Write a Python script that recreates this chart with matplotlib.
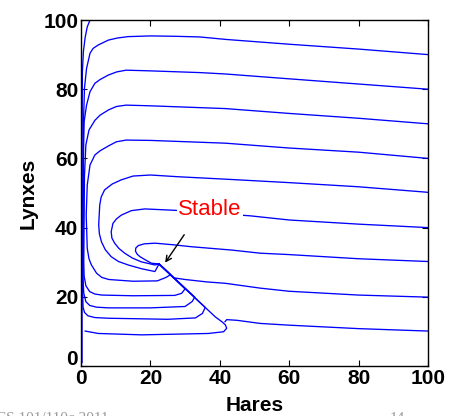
import matplotlib
matplotlib.use("Agg")
from matplotlib import pyplot as plt
import matplotlib.transforms as mtransforms

# trajectories (hares, lynxes)
top_x = [0.3, 0.3, 0.4, 0.7, 1.2, 1.8, 2.6]
top_y = [1, 60, 85, 91, 95, 98, 100]

a_x = [100, 80, 60, 41.6, 34.3, 27, 20, 13.6, 10.5, 7.9, 5, 3.5, 2.6, 1.6, 1.0, 0.7, 0.5, 0.5, 0.6, 1.0, 2, 4, 8, 25, 33, 35, 35.8, 22.5]
a_y = [90, 91.6, 93, 94.4, 95.1, 95.3, 95.4, 95.2, 94.8, 94.2, 92.8, 91.8, 90.4, 86, 80.3, 70, 50, 20, 17, 15.5, 14.5, 14.0, 13.8, 13.5, 13.9, 15.2, 16.9, 29.5]

b_x = [100, 80, 60, 41.6, 34.3, 20, 13, 10.3, 7.9, 5.5, 4, 2.6, 1.6, 0.9, 0.7, 0.6, 0.8, 1.4, 2.5, 4.5, 8, 20, 30, 32, 32.8, 22.5]
b_y = [80, 81.5, 83, 84.4, 84.8, 85.3, 85.5, 85.0, 84.1, 82.8, 81.7, 79.3, 75.4, 70.6, 60, 25, 21, 18.6, 17.5, 17.0, 16.8, 16.8, 17.2, 18.6, 19.9, 29.5]

c_x = [100, 80, 60, 41.6, 20, 13, 10.2, 7.9, 5.5, 4, 2.3, 1.4, 1.0, 0.8, 0.9, 1.4, 2.5, 4, 6, 15, 27, 29, 30, 22.5]
c_y = [70, 71.6, 73, 74.4, 75.2, 75.4, 75.0, 74, 72.5, 71, 68.2, 63.9, 55, 30, 26, 23.2, 21.5, 20.8, 20.5, 20.3, 20.4, 21.0, 22.3, 29.5]

d_x = [100, 80, 60, 41.6, 20, 13, 10.2, 7.9, 5.5, 4, 2.6, 1.8, 1.5, 1.8, 2.3, 3, 4.5, 6, 8, 15, 22, 24.5, 25.8, 22.5]
d_y = [60, 61.8, 63, 64.4, 65.2, 65.3, 64.8, 63.6, 62.2, 61, 58.1, 52.3, 43.6, 34, 31, 29.2, 26.8, 25.6, 25, 24.5, 24.6, 25.6, 26.4, 29.5]

e_x = [100, 80, 60, 41.6, 28, 20, 15, 11.6, 9, 6.8, 5.8, 5.4, 5.1, 5.3, 5.9, 7, 8.7, 10.8, 13.6, 17.5, 21.3, 22.5]
e_y = [50.2, 51.8, 53, 54, 54.7, 55.2, 54.9, 53.8, 52.6, 50.9, 48.8, 46.5, 40.8, 38.2, 35.9, 33.6, 31.6, 30.2, 29.2, 28.1, 27.3, 29.5]

f_x = [100, 80, 60, 48.8, 27, 18.4, 14.5, 11.6, 10.2, 9.2, 8.7, 8.9, 9.7, 10.9, 12.6, 14.8, 17.4, 21.3, 22.5]
f_y = [40, 41, 42.2, 43.4, 45, 45.4, 44.9, 43.6, 42.5, 41.2, 38.8, 37.0, 35.5, 34.0, 32.6, 31.2, 30.1, 29.2, 29.5]

g_x = [100, 80, 60, 51.7, 43.5, 31.5, 27, 21.3, 18.2, 16.5, 15.8, 15.7, 16.2, 17, 18.5, 20.3, 22.5]
g_y = [30.2, 31, 32.2, 32.6, 33.5, 34.5, 35, 35.5, 35.3, 34.8, 34.1, 33.2, 32.3, 31.6, 30.7, 29.7, 29.5]

h_x = [100, 80, 60, 51.7, 41.6, 36.3, 30, 26.6, 24.5, 22.5]
h_y = [19.9, 20.5, 21.6, 22.5, 23.9, 24.3, 25, 25.5, 27.6, 29.5]

low_x = [1.2, 5, 17.5, 36.7, 41.1, 42, 41.6, 40.6, 38.7, 30, 22.5]
low_y = [10.1, 9.4, 9, 9.4, 9.9, 10.9, 11.9, 12.8, 14.2, 22.4, 29.5]

i_x = [100, 80, 60, 51.7, 45, 42, 41.5]
i_y = [10.1, 10.8, 11.8, 12.3, 13.2, 13.4, 12.8]

curves = [(top_x, top_y), (a_x, a_y), (b_x, b_y), (c_x, c_y), (d_x, d_y),
          (e_x, e_y), (f_x, f_y), (g_x, g_y), (h_x, h_y), (low_x, low_y), (i_x, i_y)]

ticks = [0, 20, 40, 60, 80, 100]

fig = plt.figure(figsize=(4.5, 4.16), dpi=100)
ax = fig.add_axes([0.18, 0.1202, 0.771, 0.8317])

for cx, cy in curves:
    ax.plot(cx, cy, color='#0000ff', lw=0.95, solid_joinstyle='round')

ax.set_xlim(0, 100)
ax.set_ylim(0, 100)
ax.set_xticks(ticks)
ax.set_yticks(ticks)
ax.tick_params(direction='in', top=True, right=True, length=4, width=0.8,
               labelsize=15, pad=2)
for lab in ax.get_xticklabels() + ax.get_yticklabels():
    lab.set_fontweight('bold')
    lab.set_family('Liberation Sans')
for sp in ax.spines.values():
    sp.set_linewidth(1.0)

# lift the y "0" a little so it clears the x "0", as in the original
ylab0 = ax.get_yticklabels()[0]
ylab0.set_transform(ylab0.get_transform() +
                    mtransforms.ScaledTranslation(0, 6 / 72, fig.dpi_scale_trans))

ax.set_xlabel("Hares", fontsize=15, fontweight='bold', family='Liberation Sans', labelpad=6)
ax.set_ylabel("Lynxes", fontsize=15, fontweight='bold', family='Liberation Sans', labelpad=4)

ax.annotate("", xy=(23.8, 29.2), xytext=(30.2, 38.6),
            arrowprops=dict(arrowstyle='->', color='black', lw=1))
ax.text(37.2, 45.1, "Stable", color='red', fontsize=16, family='Liberation Sans',
        ha='center', va='center',
        bbox=dict(facecolor='white', edgecolor='none', pad=1))

fig.text(-0.01, -0.014, "CS 101/110c 2011", fontsize=11, family='Liberation Serif', color='#999999')
fig.text(0.867, -0.014, "14", fontsize=11, family='Liberation Serif', color='#999999')

plt.savefig("out.png", dpi=100)
